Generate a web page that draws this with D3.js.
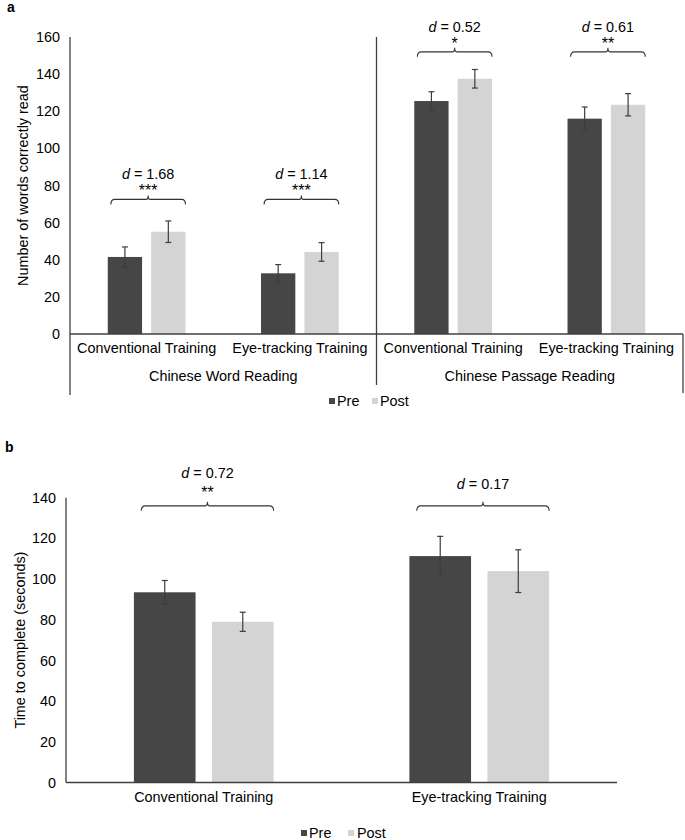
<!DOCTYPE html>
<html>
<head>
<meta charset="utf-8">
<script src="https://cdn.jsdelivr.net/npm/d3@7"></script>
<style>
  html, body { margin: 0; padding: 0; background: #fff; }
  svg { display: block; font-family: "Liberation Sans", Arial, Helvetica, sans-serif; }
</style>
</head>
<body>
<svg id="chart" width="685" height="840"></svg>
<script>
// ---------- DATA ----------
const trainings = ["Conventional Training", "Eye-tracking Training"];
const seriesNames = ["Pre", "Post"];
const colors = ["#464646", "#d4d4d4"];

// Panel a
const groupsA = ["Chinese Word Reading", "Chinese Passage Reading"];
const wordPre = [41.5, 32.7];
const wordPost = [55.1, 44.2];
const wordPreErr = [5.4, 4.7];
const wordPostErr = [5.8, 5.0];
const passagePre = [125.5, 116.0];
const passagePost = [137.5, 123.5];
const passagePreErr = [5.0, 6.3];
const passagePostErr = [5.0, 6.0];
const dValuesA = ["1.68", "1.14", "0.52", "0.61"];
const starsA = ["***", "***", "*", "**"];
const bracketA = [72.5, 72.5, 152, 152];
const yTicksA = [0, 20, 40, 60, 80, 100, 120, 140, 160];
const yTitleA = "Number of words correctly read";

// Panel b
const timePre = [93.5, 111.3];
const timePost = [79.0, 103.9];
const timePreErr = [5.8, 9.7];
const timePostErr = [4.7, 10.5];
const dValuesB = ["0.72", "0.17"];
const starsB = ["**", ""];
const bracketB = [136, 136];
const yTicksB = [0, 20, 40, 60, 80, 100, 120, 140];
const yTitleB = "Time to complete (seconds)";

// ---------- DRAW ----------
const svg = d3.select("#chart");
const FS = 14.4;
const axisColor = "#404040";
const errColor = "#3c3c3c";

function bracketPath(x1, x2, y) {
  const cx = (x1 + x2) / 2;
  return `M${x1},${y + 5} Q${x1},${y} ${x1 + 4},${y} L${cx - 2},${y} Q${cx},${y} ${cx},${y - 4} Q${cx},${y} ${cx + 2},${y} L${x2 - 4},${y} Q${x2},${y} ${x2},${y + 5}`;
}

function drawPanel(cfg) {
  const g = svg.append("g");
  const y = d3.scaleLinear().domain([0, cfg.yMax]).range([cfg.y0, cfg.yTop]);
  const x = d3.scaleBand().domain(d3.range(cfg.cats.length)).range([cfg.xLeft, cfg.xRight]).paddingInner(0).paddingOuter(0);
  const xs = d3.scaleBand().domain(seriesNames).range([0, x.bandwidth()]).paddingInner(0.21).paddingOuter(0.87);

  // y axis (labels only)
  const ya = g.append("g").attr("transform", `translate(${cfg.xLeft},0)`)
    .call(d3.axisLeft(y).tickValues(cfg.yTicks).tickSize(0).tickPadding(10));
  ya.select(".domain").remove();
  ya.selectAll("text").attr("font-size", FS).attr("fill", "#000").attr("font-family", null);

  // bars
  cfg.cats.forEach((c, i) => {
    const vals = [cfg.pre[i], cfg.post[i]];
    const errs = [cfg.preErr[i], cfg.postErr[i]];
    seriesNames.forEach((s, j) => {
      const bx = x(i) + xs(s);
      g.append("rect")
        .attr("x", bx).attr("width", xs.bandwidth())
        .attr("y", y(vals[j])).attr("height", y(0) - y(vals[j]))
        .attr("fill", colors[j]);
      const cx = bx + xs.bandwidth() / 2;
      const hi = y(vals[j] + errs[j]), lo = y(vals[j] - errs[j]);
      g.append("line").attr("x1", cx).attr("x2", cx).attr("y1", hi).attr("y2", lo)
        .attr("stroke", errColor).attr("stroke-width", 1.2);
      [hi, lo].forEach(yy => g.append("line").attr("x1", cx - 3).attr("x2", cx + 3)
        .attr("y1", yy).attr("y2", yy).attr("stroke", errColor).attr("stroke-width", 1.2));
    });
    // bracket
    const bx1 = x(i) + xs("Pre") + xs.bandwidth() * cfg.brInset;
    const bx2 = x(i) + xs("Post") + xs.bandwidth();
    const by = y(cfg.bracket[i]);
    g.append("path").attr("d", bracketPath(bx1, bx2, by))
      .attr("fill", "none").attr("stroke", "#333").attr("stroke-width", 1.1);
    const bcx = (bx1 + bx2) / 2;
    const hasStars = cfg.stars[i] !== "";
    const dOff = hasStars ? cfg.dOffStars : cfg.dOffNoStars;
    const t = g.append("text").attr("x", bcx).attr("y", by - dOff + 5)
      .attr("text-anchor", "middle").attr("font-size", FS).attr("fill", "#000");
    t.append("tspan").attr("font-style", "italic").text("d");
    t.append("tspan").text(" = " + cfg.dVals[i]);
    if (hasStars) {
      g.append("text").attr("x", bcx).attr("y", by - cfg.starOff + 9)
        .attr("text-anchor", "middle").attr("font-size", 16).attr("fill", "#000")
        .text(cfg.stars[i]);
    }
  });

  // x axis
  const xa = g.append("g").attr("transform", `translate(0,${cfg.y0})`)
    .call(d3.axisBottom(x).tickFormat(i => cfg.cats[i]).tickSize(0).tickPadding(9));
  xa.select(".domain").remove();
  xa.selectAll("text").attr("font-size", FS).attr("fill", "#000").attr("font-family", null);

  g.append("line").attr("x1", cfg.xLeft).attr("x2", cfg.xRight)
    .attr("y1", cfg.y0).attr("y2", cfg.y0).attr("stroke", axisColor).attr("stroke-width", 1.3);
  g.append("line").attr("x1", cfg.xLeft).attr("x2", cfg.xLeft)
    .attr("y1", cfg.yTop).attr("y2", cfg.yAxisBottom).attr("stroke", axisColor).attr("stroke-width", 1.3);

  // y title
  g.append("text")
    .attr("transform", `translate(${cfg.titleX},${(cfg.y0 + cfg.yTop) / 2}) rotate(-90)`)
    .attr("text-anchor", "middle").attr("dominant-baseline", "central")
    .attr("font-size", FS).attr("fill", "#000").text(cfg.yTitle);

  // panel label
  g.append("text").attr("x", cfg.labelX).attr("y", cfg.labelY)
    .attr("font-size", 14).attr("font-weight", "bold").attr("fill", "#000").text(cfg.label);

  // legend
  cfg.legend.forEach((lx, j) => {
    g.append("rect").attr("x", lx.m).attr("y", cfg.legendY - 3).attr("width", 6).attr("height", 6).attr("fill", colors[j]);
    g.append("text").attr("x", lx.t).attr("y", cfg.legendY + 5).attr("font-size", FS).attr("fill", "#000").text(seriesNames[j]);
  });

  return { g, x, y };
}

// Panel a
const catsA = [trainings[0], trainings[1], trainings[0], trainings[1]];
const pa = drawPanel({
  cats: catsA,
  pre: wordPre.concat(passagePre), post: wordPost.concat(passagePost),
  preErr: wordPreErr.concat(passagePreErr), postErr: wordPostErr.concat(passagePostErr),
  dVals: dValuesA, stars: starsA, bracket: bracketA,
  yMax: 160, y0: 334, yTop: 37, yTicks: yTicksA,
  xLeft: 70, xRight: 683, yAxisBottom: 395,
  brInset: 0.09, dOffStars: 25, dOffNoStars: 22, starOff: 12,
  yTitle: yTitleA, titleX: 23,
  label: "a", labelX: 7, labelY: 12,
  legend: [{ m: 329, t: 337 }, { m: 372, t: 380 }], legendY: 401
});
// group labels & separators for panel a
groupsA.forEach((gName, k) => {
  const cx = (pa.x(2 * k) + pa.x(2 * k + 1) + pa.x.bandwidth()) / 2;
  pa.g.append("text").attr("x", cx).attr("y", 381).attr("text-anchor", "middle")
    .attr("font-size", FS).attr("fill", "#000").text(gName);
});
pa.g.append("line").attr("x1", pa.x(2)).attr("x2", pa.x(2)).attr("y1", 37).attr("y2", 385)
  .attr("stroke", axisColor).attr("stroke-width", 1.3);
pa.g.append("line").attr("x1", 683).attr("x2", 683).attr("y1", 334).attr("y2", 393)
  .attr("stroke", axisColor).attr("stroke-width", 1.3);

// Panel b
drawPanel({
  cats: trainings,
  pre: timePre, post: timePost, preErr: timePreErr, postErr: timePostErr,
  dVals: dValuesB, stars: starsB, bracket: bracketB,
  yMax: 140, y0: 782.5, yTop: 497.7, yTicks: yTicksB,
  xLeft: 66, xRight: 617, yAxisBottom: 782.5,
  brInset: 0.12, dOffStars: 33, dOffNoStars: 22, starOff: 17,
  yTitle: yTitleB, titleX: 20,
  label: "b", labelX: 5, labelY: 452,
  legend: [{ m: 301, t: 309 }, { m: 348, t: 357 }], legendY: 833
});
</script>
</body>
</html>
